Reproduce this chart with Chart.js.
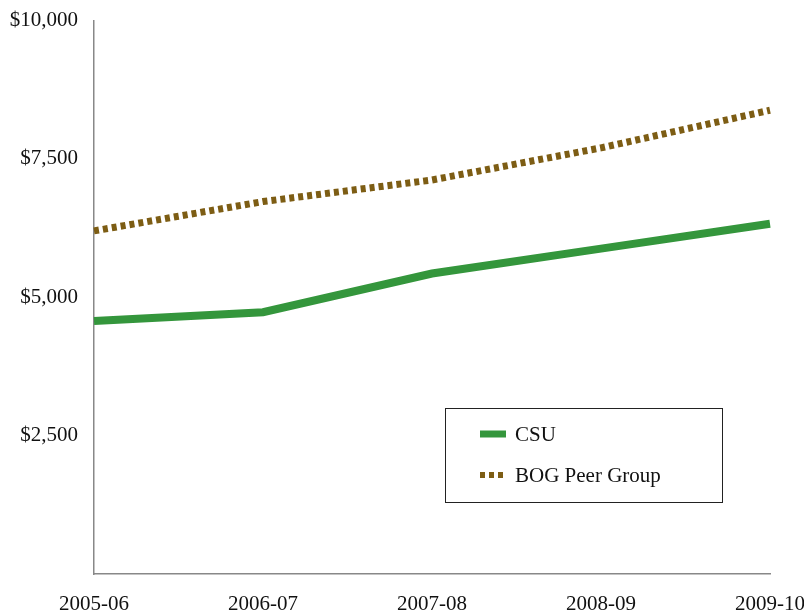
<!DOCTYPE html>
<html>
<head>
<meta charset="utf-8">
<script src="https://cdn.jsdelivr.net/npm/chart.js@4/dist/chart.umd.min.js"></script>
<style>
  html, body { margin: 0; padding: 0; background: #fff; overflow: hidden; }
  #wrap { width: 804px; height: 615px; overflow: hidden; }
  #chart { display: block; margin-top: -8px; }
</style>
</head>
<body>
<div id="wrap"><canvas id="chart" width="830" height="623"></canvas></div>
<script>
// data
const years = ['2005-06', '2006-07', '2007-08', '2008-09', '2009-10'];
const csu = [4570, 4730, 5430, 5880, 6330];
const bogPeers = [6200, 6730, 7120, 7700, 8380];
const yTicks = [2500, 5000, 7500, 10000];

const GREEN = '#34963c';
const BROWN = '#7d5d14';
const FONT = "'Liberation Serif', 'Times New Roman', serif";

// legend box drawn inside the plot area (canvas is shifted up 8px)
const boxLegend = {
  id: 'boxLegend',
  afterDraw(chart) {
    const ctx = chart.ctx;
    const x = 445, y = 416, w = 277, h = 94;
    ctx.save();
    ctx.fillStyle = '#fff';
    ctx.fillRect(x, y, w, h);
    ctx.strokeStyle = '#222';
    ctx.lineWidth = 1;
    ctx.strokeRect(x + 0.5, y + 0.5, w, h);
    chart.data.datasets.forEach((ds, i) => {
      const cy = y + 26 + i * 41;
      ctx.beginPath();
      ctx.strokeStyle = ds.borderColor;
      ctx.lineWidth = ds.borderWidth - 1;
      ctx.setLineDash(ds.borderDash || []);
      ctx.moveTo(480, cy);
      ctx.lineTo(506, cy);
      ctx.stroke();
      ctx.setLineDash([]);
      ctx.fillStyle = '#111';
      ctx.font = '21px ' + FONT;
      ctx.textBaseline = 'middle';
      ctx.fillText(ds.label, 515, cy + 1);
    });
    ctx.restore();
  }
};

new Chart(document.getElementById('chart'), {
  type: 'line',
  data: {
    labels: years,
    datasets: [
      {
        label: 'CSU',
        data: csu,
        borderColor: GREEN,
        borderWidth: 8,
        pointRadius: 0,
        tension: 0,
        fill: false
      },
      {
        label: 'BOG Peer Group',
        data: bogPeers,
        borderColor: BROWN,
        borderWidth: 7,
        borderDash: [5, 4],
        borderCapStyle: 'butt',
        pointRadius: 0,
        tension: 0,
        fill: false
      }
    ]
  },
  options: {
    responsive: false,
    animation: false,
    layout: { padding: { top: 3, right: 60, left: 0, bottom: 0 } },
    plugins: {
      legend: { display: false },
      tooltip: { enabled: false }
    },
    scales: {
      x: {
        offset: false,
        afterFit(scale) { scale.height = 41; },
        grid: { display: false, drawTicks: false },
        border: { color: '#888', width: 1.5 },
        ticks: {
          color: '#111',
          font: { family: FONT, size: 21 },
          padding: 18,
          maxRotation: 0
        }
      },
      y: {
        min: 0,
        max: 10000,
        afterFit(scale) { scale.width = 94; },
        afterBuildTicks(scale) {
          scale.ticks = [0].concat(yTicks).map(v => ({ value: v }));
        },
        grid: { display: false, drawTicks: false },
        border: { color: '#888', width: 1.5 },
        ticks: {
          color: '#111',
          font: { family: FONT, size: 21 },
          padding: 16,
          callback: v => v === 0 ? '' : '$' + v.toLocaleString('en-US')
        }
      }
    }
  },
  plugins: [boxLegend]
});
</script>
</body>
</html>
